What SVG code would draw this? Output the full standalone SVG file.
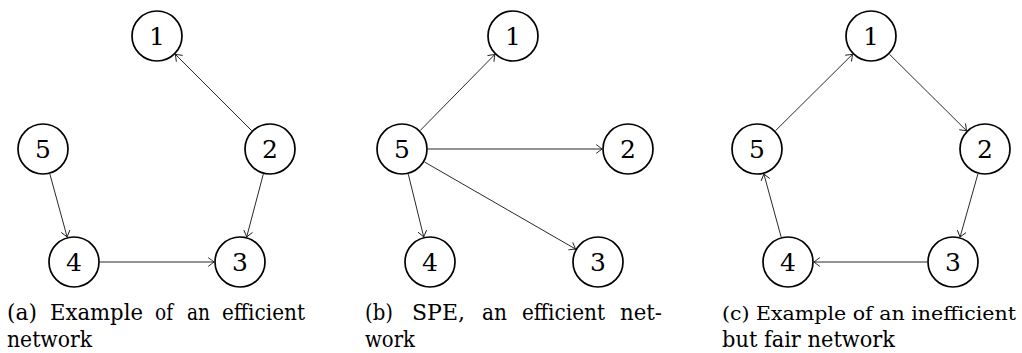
<svg xmlns="http://www.w3.org/2000/svg" width="1022" height="353" viewBox="0 0 1022 353">
<style>
  .node circle { fill: #fff; stroke: #000; stroke-width: 1.7; }
  .node text { font-family: "DejaVu Serif", "Liberation Serif", serif; font-size: 25px; text-anchor: middle; fill: #000; }
  .edges line { stroke: #111; stroke-width: 0.9; marker-end: url(#arr); }
  .cap text { font-family: "DejaVu Serif", "Liberation Serif", serif; font-size: 22px; fill: #000; }
</style>
<defs>
  <marker id="arr" markerUnits="userSpaceOnUse" viewBox="-7 -6 9 12" refX="0" refY="0" markerWidth="9" markerHeight="12" orient="auto" overflow="visible">
    <path d="M -5.5 -4.2 Q -1.5 -1.2 0 0 Q -1.5 1.2 -5.5 4.2" fill="none" stroke="#111" stroke-width="0.9" stroke-linecap="round"/>
  </marker>
</defs>

<g id="edges" class="edges">
  <!-- panel a -->
  <line x1="251.6" y1="130.6" x2="175.4" y2="54.4"/>
  <line x1="49.9" y1="174.1" x2="67.1" y2="236.9"/>
  <line x1="263.3" y1="174.1" x2="246.7" y2="236.9"/>
  <line x1="100" y1="262" x2="214" y2="262"/>
  <!-- panel b -->
  <line x1="420.2" y1="130.5" x2="494.8" y2="54.5"/>
  <line x1="428" y1="149" x2="602" y2="149"/>
  <line x1="408.3" y1="174.2" x2="423.7" y2="236.8"/>
  <line x1="424.5" y1="162.0" x2="575.5" y2="249.0"/>
  <!-- panel c -->
  <line x1="889.5" y1="54.3" x2="966.5" y2="130.7"/>
  <line x1="775.5" y1="130.7" x2="852.5" y2="54.3"/>
  <line x1="977.9" y1="174.0" x2="960.1" y2="237.0"/>
  <line x1="927" y1="262" x2="814" y2="262"/>
  <line x1="781.1" y1="236.9" x2="763.9" y2="174.1"/>
</g>

<!-- panel a nodes -->
<g id="a1" class="node"><circle cx="157" cy="36" r="25"/><text x="157" y="45">1</text></g>
<g id="a5" class="node"><circle cx="43" cy="149" r="25"/><text x="43" y="158">5</text></g>
<g id="a2" class="node"><circle cx="270" cy="149" r="25"/><text x="270" y="158">2</text></g>
<g id="a4" class="node"><circle cx="74" cy="262" r="25"/><text x="74" y="271">4</text></g>
<g id="a3" class="node"><circle cx="240" cy="262" r="25"/><text x="240" y="271">3</text></g>

<!-- panel b nodes -->
<g id="b1" class="node"><circle cx="513" cy="36" r="25"/><text x="513" y="45">1</text></g>
<g id="b5" class="node"><circle cx="402" cy="149" r="25"/><text x="402" y="158">5</text></g>
<g id="b2" class="node"><circle cx="628" cy="149" r="25"/><text x="628" y="158">2</text></g>
<g id="b4" class="node"><circle cx="430" cy="262" r="25"/><text x="430" y="271">4</text></g>
<g id="b3" class="node"><circle cx="598" cy="262" r="25"/><text x="598" y="271">3</text></g>

<!-- panel c nodes -->
<g id="c1" class="node"><circle cx="871" cy="36" r="25"/><text x="871" y="45">1</text></g>
<g id="c5" class="node"><circle cx="757" cy="149" r="25"/><text x="757" y="158">5</text></g>
<g id="c2" class="node"><circle cx="985" cy="149" r="25"/><text x="985" y="158">2</text></g>
<g id="c4" class="node"><circle cx="788" cy="262" r="25"/><text x="788" y="271">4</text></g>
<g id="c3" class="node"><circle cx="953" cy="262" r="25"/><text x="953" y="271">3</text></g>

<!-- captions -->
<g id="caption-a" class="cap">
  <text x="7" y="320" textLength="30" lengthAdjust="spacingAndGlyphs">(a)</text>
  <text x="50" y="320" textLength="93" lengthAdjust="spacingAndGlyphs">Example</text>
  <text x="155" y="320" textLength="18" lengthAdjust="spacingAndGlyphs">of</text>
  <text x="187" y="320" textLength="23" lengthAdjust="spacingAndGlyphs">an</text>
  <text x="222" y="320" textLength="83" lengthAdjust="spacingAndGlyphs">efficient</text>
  <text x="7" y="347" textLength="85" lengthAdjust="spacingAndGlyphs">network</text>
</g>
<g id="caption-b" class="cap">
  <text x="365" y="320" textLength="28" lengthAdjust="spacingAndGlyphs">(b)</text>
  <text x="412" y="320" textLength="53" lengthAdjust="spacingAndGlyphs">SPE,</text>
  <text x="482" y="320" textLength="25" lengthAdjust="spacingAndGlyphs">an</text>
  <text x="522" y="320" textLength="83" lengthAdjust="spacingAndGlyphs">efficient</text>
  <text x="620" y="320" textLength="42" lengthAdjust="spacingAndGlyphs">net-</text>
  <text x="365" y="347" textLength="50" lengthAdjust="spacingAndGlyphs">work</text>
</g>
<g id="caption-c" class="cap">
  <text x="722" y="320" style="font-size:19px" textLength="294" lengthAdjust="spacingAndGlyphs">(c) Example of an inefficient</text>
  <text x="722" y="347" textLength="173" lengthAdjust="spacingAndGlyphs">but fair network</text>
</g>
</svg>
